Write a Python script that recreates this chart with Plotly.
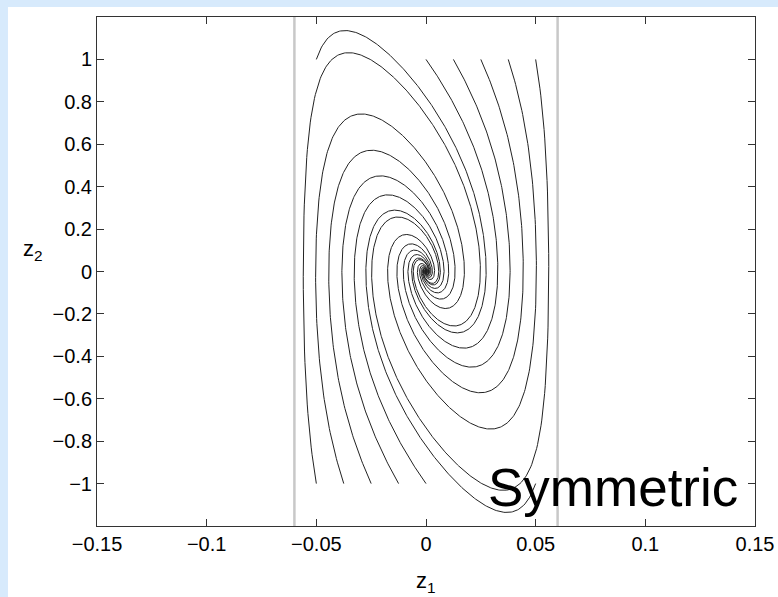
import numpy as np
import plotly.graph_objects as go

# ---- data ----
# initial states of each trajectory (z1, z2)
start_z1 = [-0.05, 0.0, 0.0125, 0.025, 0.0375, 0.05,
            0.05, 0.0, -0.0125, -0.025, -0.0375, -0.05]
start_z2 = [1, 1, 1, 1, 1, 1,
            -1, -1, -1, -1, -1, -1]
# symmetric barrier bound on z1 (grey lines) and controller gains
bound_kb = 0.06
gain_c = 1.0
gain_k1 = 0.2
gain_k2 = 14.5
limit_lines = [-0.06, 0.06]
x_ticks = [-0.15, -0.1, -0.05, 0, 0.05, 0.1, 0.15]
x_labels = ["\u22120.15", "\u22120.1", "\u22120.05", "0", "0.05", "0.1", "0.15"]
y_ticks = [-1, -0.8, -0.6, -0.4, -0.2, 0, 0.2, 0.4, 0.6, 0.8, 1]
y_labels = ["\u22121", "\u22120.8", "\u22120.6", "\u22120.4", "\u22120.2", "0",
            "0.2", "0.4", "0.6", "0.8", "1"]


def simulate(z1, z2, dt=0.0001, steps=20000, keep=5):
    def f(a, b):
        return (b - gain_k1 * a,
                -gain_c * a / (bound_kb ** 2 - a ** 2) - gain_k2 * b)
    xs, ys = [z1], [z2]
    for i in range(steps):
        k1 = f(z1, z2)
        k2 = f(z1 + dt / 2 * k1[0], z2 + dt / 2 * k1[1])
        k3 = f(z1 + dt / 2 * k2[0], z2 + dt / 2 * k2[1])
        k4 = f(z1 + dt * k3[0], z2 + dt * k3[1])
        z1 += dt / 6 * (k1[0] + 2 * k2[0] + 2 * k3[0] + k4[0])
        z2 += dt / 6 * (k1[1] + 2 * k2[1] + 2 * k3[1] + k4[1])
        if i % keep == 0:
            xs.append(z1)
            ys.append(z2)
    return xs, ys


fig = go.Figure()
for a, b in zip(start_z1, start_z2):
    xs, ys = simulate(a, b)
    fig.add_trace(go.Scatter(x=xs, y=ys, mode="lines",
                             line=dict(color="#222222", width=1),
                             hoverinfo="skip", showlegend=False))

for xv in limit_lines:
    fig.add_trace(go.Scatter(x=[xv, xv], y=[-1.2, 1.2], mode="lines",
                             line=dict(color="#c8c8c8", width=2.5),
                             hoverinfo="skip", showlegend=False))

axis_common = dict(showline=True, linecolor="#333333", linewidth=1,
                   mirror="ticks", ticks="inside", ticklen=7,
                   tickcolor="#333333", showgrid=False, zeroline=False,
                   automargin=False,
                   tickfont=dict(family="Liberation Sans, Arial", size=20,
                                 color="#000000"))

fig.update_layout(
    width=778, height=597,
    margin=dict(l=97, r=23, t=17, b=71),
    paper_bgcolor="#d7eafc",
    plot_bgcolor="#ffffff",
    xaxis=dict(range=[-0.15, 0.15], tickvals=x_ticks, ticktext=x_labels,
               **axis_common),
    yaxis=dict(range=[-1.2, 1.2], tickvals=y_ticks, ticktext=y_labels,
               **axis_common),
    shapes=[
        dict(type="rect", xref="paper", yref="paper", x0=-0.1353, x1=1.2,
             y0=-0.3, y1=1.0197, fillcolor="#ffffff", line=dict(width=0),
             layer="below"),
    ],
    annotations=[
        dict(text="z<sub>1</sub>", xref="paper", yref="paper", x=0.5,
             y=-0.11, xanchor="center", yanchor="middle", showarrow=False,
             font=dict(family="Liberation Sans, Arial", size=22, color="#000")),
        dict(text="z<sub>2</sub>", xref="paper", yref="paper", x=-0.097,
             y=0.542, xanchor="center", yanchor="middle", showarrow=False,
             font=dict(family="Liberation Sans, Arial", size=22, color="#000")),
        dict(text="Symmetric", xref="x", yref="y", x=0.0273, y=-1.02,
             xanchor="left", yanchor="middle", showarrow=False,
             font=dict(family="Liberation Sans, Arial", size=53, color="#000")),
    ],
)

fig.write_html("out.html", config={"displayModeBar": False},
               post_script="document.body.style.margin='0';"
                           "document.body.style.overflow='hidden';")
